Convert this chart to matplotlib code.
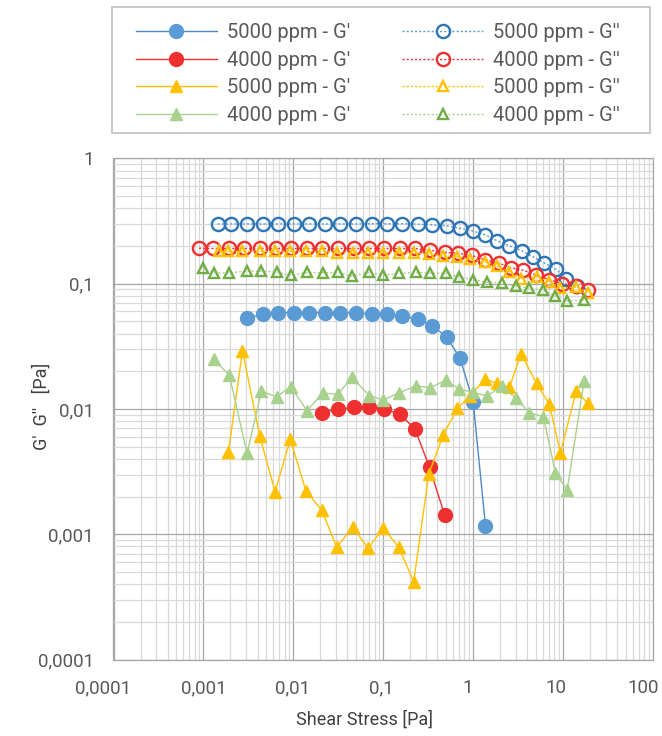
import matplotlib
matplotlib.use('Agg')
import matplotlib.pyplot as plt
from matplotlib.patches import Rectangle
from matplotlib.transforms import ScaledTranslation
from matplotlib.ticker import FixedLocator, FixedFormatter, LogLocator, NullFormatter

plt.rcParams['font.family'] = ['Roboto', 'DejaVu Sans']

# shear stress steps of each run [Pa]
stress_blue = [0.00144, 0.00203, 0.00303, 0.00457, 0.00681, 0.0102, 0.0151, 0.0224, 0.0331,
               0.0498, 0.0745, 0.109, 0.163, 0.242, 0.352, 0.509, 0.715, 1.00, 1.37, 1.85,
               2.53, 3.47, 4.64, 6.14, 8.42, 10.7, 14.1]
stress_red = [0.000893, 0.00129, 0.00194, 0.00283, 0.00426, 0.00637, 0.00943, 0.0142, 0.0207,
              0.0310, 0.0467, 0.0695, 0.103, 0.154, 0.226, 0.327, 0.481, 0.679, 0.972, 1.36,
              1.94, 2.61, 3.62, 5.01, 7.04, 9.67, 14.0, 19.1]
stress_yellow = [0.00149, 0.00190, 0.00272, 0.00423, 0.00626, 0.00926, 0.0138, 0.0207, 0.0304,
                 0.0456, 0.0678, 0.100, 0.149, 0.218, 0.321, 0.466, 0.667, 0.924, 1.35, 1.83,
                 2.53, 3.41, 5.07, 7.04, 9.33, 14.0, 18.9]
stress_green = [0.000982, 0.00130, 0.00194, 0.00306, 0.00441, 0.00654, 0.00931, 0.0142, 0.0212,
                0.0314, 0.0446, 0.0701, 0.100, 0.151, 0.231, 0.334, 0.500, 0.702, 0.990, 1.42,
                2.10, 2.96, 4.23, 6.04, 8.21, 11.1, 17.1]

# storage modulus G' [Pa] (first point of each run given by the offset)
blue_g1_start = 2
blue_g1 = [0.0530, 0.0570, 0.0587, 0.0587, 0.0587, 0.0587, 0.0587, 0.0581, 0.0578, 0.0570,
           0.0553, 0.0523, 0.0462, 0.0374, 0.0254, 0.0114, 0.00117]
red_g1_start = 8
red_g1 = [0.00934, 0.00995, 0.0103, 0.0103, 0.0100, 0.00907, 0.00689, 0.00342, 0.00143]
yellow_g1_start = 1
yellow_g1 = [0.00456, 0.0292, 0.00609, 0.00219, 0.00573, 0.00222, 0.00156, 0.000787, 0.00114,
             0.000773, 0.00112, 0.000787, 0.000418, 0.00303, 0.00624, 0.0101, 0.0127, 0.0173,
             0.0160, 0.0149, 0.0276, 0.0160, 0.0109, 0.00448, 0.0139, 0.0111]
green_g1_start = 1
green_g1 = [0.0249, 0.0187, 0.00442, 0.0139, 0.0125, 0.0151, 0.00969, 0.0134, 0.0131, 0.0179,
            0.0128, 0.0118, 0.0135, 0.0153, 0.0148, 0.0170, 0.0144, 0.0136, 0.0127, 0.0152,
            0.0122, 0.00934, 0.00868, 0.00310, 0.00226, 0.0167]

# loss modulus G'' [Pa]
blue_g2 = [0.300, 0.300, 0.300, 0.300, 0.300, 0.300, 0.300, 0.300, 0.300, 0.300, 0.301, 0.301,
           0.301, 0.299, 0.294, 0.290, 0.277, 0.263, 0.245, 0.220, 0.201, 0.183, 0.164, 0.147,
           0.130, 0.110, 0.096]
red_g2 = [0.192, 0.191, 0.191, 0.191, 0.191, 0.191, 0.191, 0.191, 0.191, 0.191, 0.191, 0.191,
          0.191, 0.191, 0.191, 0.185, 0.178, 0.175, 0.168, 0.155, 0.146, 0.134, 0.128, 0.117,
          0.108, 0.100, 0.096, 0.089]
yellow_g2 = [0.181, 0.181, 0.181, 0.181, 0.181, 0.181, 0.181, 0.181, 0.177, 0.176, 0.177, 0.177,
             0.177, 0.176, 0.172, 0.166, 0.164, 0.157, 0.150, 0.138, 0.125, 0.110, 0.114, 0.104,
             0.092, 0.094, 0.085]
green_g2 = [0.133, 0.122, 0.122, 0.126, 0.126, 0.124, 0.117, 0.123, 0.122, 0.123, 0.115, 0.124,
            0.117, 0.121, 0.123, 0.121, 0.121, 0.113, 0.108, 0.103, 0.101, 0.096, 0.092, 0.089,
            0.080, 0.073, 0.074]

labels_g1 = ["5000 ppm - G'", "4000 ppm - G'", "5000 ppm - G'", "4000 ppm - G'"]
labels_g2 = ["5000 ppm - G''", "4000 ppm - G''", "5000 ppm - G''", "4000 ppm - G''"]

tick_vals_x = [0.0001, 0.001, 0.01, 0.1, 1, 10, 100]
tick_text_x = ['0,0001', '0,001', '0,01', '0,1', '1', '10', '100']
tick_vals_y = [0.0001, 0.001, 0.01, 0.1, 1]
tick_text_y = ['0,0001', '0,001', '0,01', '0,1', '1']

W, H = 662, 736
fig = plt.figure(figsize=(W / 100, H / 100), dpi=100)
ax = fig.add_axes([113.5 / W, 1 - 659.6 / H, (653 - 113.5) / W, (659.6 - 158.4) / H])
ax.set_xscale('log')
ax.set_yscale('log')

# G' curves: filled markers, solid lines
g1_style = [
    (stress_blue, blue_g1_start, blue_g1, dict(color='#4A89C8', marker='o', ms=10, mfc='#5B9BD5', mec='#5B9BD5')),
    (stress_red, red_g1_start, red_g1, dict(color='#EE3030', marker='o', ms=10, mfc='#EE3030', mec='#EE3030')),
    (stress_yellow, yellow_g1_start, yellow_g1, dict(color='#FFC000', marker='^', ms=8, mfc='#FFC000', mec='#FFC000')),
    (stress_green, green_g1_start, green_g1, dict(color='#A9D18E', marker='^', ms=8, mfc='#A9D18E', mec='#A9D18E')),
]
h1 = []
for (xs, start, ys, st), lab in zip(g1_style, labels_g1):
    ln, = ax.plot(xs[start:start + len(ys)], ys, lw=1.0, label=lab, **st)
    h1.append(ln)

# G'' curves: open markers, dotted lines
g2_style = [
    (stress_blue, blue_g2, '#5B9BD5', '#2E75B6', 'o', 9.5),
    (stress_red, red_g2, '#EE3030', '#EE3030', 'o', 9.5),
    (stress_yellow, yellow_g2, '#FFC000', '#FFC000', '^', 6.5),
    (stress_green, green_g2, '#A9D18E', '#70AD47', '^', 6.5),
]
h2 = []
for (xs, ys, lc, mc, mk, ms), lab in zip(g2_style, labels_g2):
    ln, = ax.plot(xs, ys, lw=1.0, ls=(0, (1.5, 1.5)), color=lc, marker=mk, ms=ms,
                  mfc='none', mec=mc, mew=1.7, label=lab)
    h2.append(ln)

ax.set_xlim(1e-4, 100)
ax.set_ylim(1e-4, 1)
for axis, vals, txt in ((ax.xaxis, tick_vals_x, tick_text_x), (ax.yaxis, tick_vals_y, tick_text_y)):
    axis.set_major_locator(FixedLocator(vals))
    axis.set_major_formatter(FixedFormatter(txt))
    axis.set_minor_locator(LogLocator(base=10, subs=range(2, 10), numticks=20))
    axis.set_minor_formatter(NullFormatter())
ax.tick_params(which='both', length=0, labelsize=13.5, labelcolor='#595959', pad=14)
ax.grid(which='minor', color='#D9D9D9', lw=0.9)
ax.grid(which='major', color='#A6A6A6', lw=0.9)
ax.set_axisbelow(True)
for sp in ax.spines.values():
    sp.set_color('#A6A6A6')
    sp.set_linewidth(0.9)

# nudge x tick labels left so the outer ones stay inside the figure
fig.canvas.draw()
label_shift_px = [-10, 0, -1, -2, -5, -7, -10]
for tick, dx in zip(ax.xaxis.get_major_ticks(), label_shift_px):
    tick.label1.set_transform(tick.label1.get_transform() +
                              ScaledTranslation(dx / 100, 0, fig.dpi_scale_trans))

fig.text(364 / W, 1 - 720 / H, 'Shear Stress [Pa]', ha='center', va='center',
         fontsize=13, color='#404040')
fig.text(42 / W, 1 - 406 / H, "G'  G''   [Pa]", ha='center', va='center', rotation=90,
         fontsize=13, color='#404040')

# legend box
fig.patches.append(Rectangle((112 / W, 1 - 133 / H), 538 / W, 126 / H, transform=fig.transFigure,
                             fill=False, edgecolor='#BFBFBF', lw=1.2))
fig.legend(h1 + h2, labels_g1 + labels_g2, ncol=2, loc='center',
           bbox_to_anchor=(378 / W, 1 - 74 / H), frameon=False, fontsize=14.5,
           handlelength=4.0, handletextpad=0.5, columnspacing=2.6, labelspacing=0.42,
           labelcolor='#595959')

fig.savefig('out.png', dpi=100)
